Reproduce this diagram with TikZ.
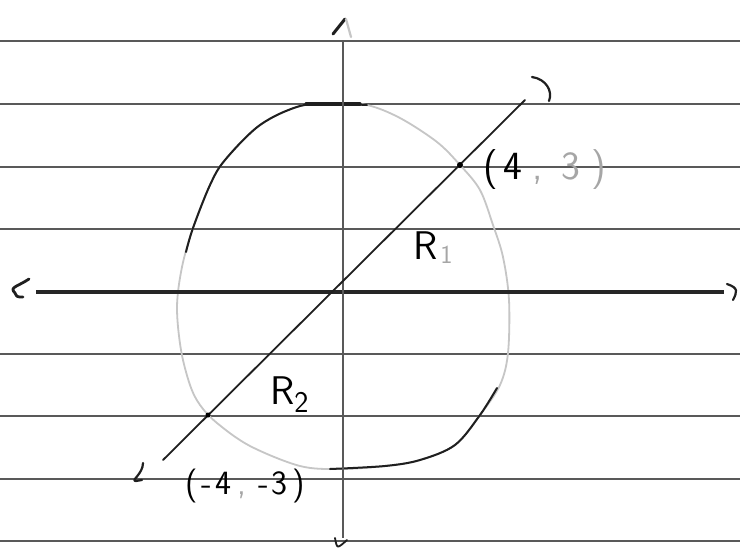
\documentclass[tikz,border=0pt]{standalone}
\usepackage{fontspec}
\begin{document}
\begin{tikzpicture}[x=1pt,y=-1pt,
  rule/.style={draw=gray!70!black, line width=1.6pt},
  pen/.style={draw=black!88, line width=1.8pt, line cap=round, line join=round},
  faint/.style={draw=gray!45, line width=1.8pt, line cap=round, line join=round},
  hand/.style={font=\sffamily\fontsize{40}{42}\selectfont, inner sep=0pt},
  dot/.style={circle, fill=black, inner sep=0pt, minimum size=6pt}]
\fill[white] (0,0) rectangle (740,550);
\useasboundingbox (0,0) rectangle (740,550);
% ruled paper
\foreach \y in {41,104,167,229,354,416,479,541} \draw[rule] (0,\y) -- (740,\y);
% named points
\coordinate (xl) at (36,292);
\coordinate (xr) at (724,292);
\coordinate (yt) at (343,41);
\coordinate (yb) at (343,538);
\coordinate (dt) at (525,100);
\coordinate (db) at (163,460);
% closed curve (light part)
\draw[faint] plot[smooth cycle, tension=0.55] coordinates {
 (335,104) (367,105) (400,118) (437,142) (460,165) (480,190) (493,225)
 (503,257) (509,300) (508,353) (500,385) (480,415) (455,445) (420,460)
 (385,466) (340,469) (300,466) (250,446) (217,423) (200,405) (190,385)
 (181,350) (177,307) (182,267) (193,228) (210,185) (225,160) (260,125) (300,106)};
% dark parts of the curve
\draw[pen, line width=2pt] plot[smooth, tension=0.55] coordinates {
 (367,105) (335,104) (300,106) (260,125) (225,160) (210,185) (193,228) (186,252)};
\draw[pen, line width=3.2pt] (306,104) -- (360,104);
\draw[pen, line width=2pt] plot[smooth, tension=0.55] coordinates {
 (330,469) (385,466) (420,460) (455,445) (480,415) (497,388)};
% axes
\draw[draw=black!85, line width=3.6pt] (xl) -- (xr);
\draw[rule, line width=1.8pt] (yt) -- (yb);
% axis ends (hand-drawn arrow marks)
\draw[pen, line width=2.8pt] (xl) ++(-7,-13) .. controls +(-12,8) and +(-6,-6) .. ++(-14,14) .. controls +(2,4) .. ++(8,4);
\draw[pen, line width=2.2pt] (xr) ++(3,-8) .. controls +(12,4) and +(4,-8) .. ++(6,16);
\draw[pen, line width=3pt] (yt) ++(-10,-7) -- ++(12,-15);
\draw[faint, line width=2.2pt] (yt) ++(3,-22) -- ++(5,18);
\draw[pen, line width=1.8pt] (yb) ++(-8,0) .. controls +(2,11) and +(-10,9) .. ++(12,2);
% diagonal
\draw[pen] (db) -- (dt);
\draw[pen, line width=2.2pt] (dt) ++(7,-23) .. controls +(14,2) and +(4,-10) .. ++(17,24);
\draw[pen, line width=2.2pt] (db) ++(-20,3) .. controls +(0,11) and +(-6,0) .. ++(-7,18) -- ++(6,-1);
% points
\node[dot] (p1) at (460,165) {};
\node[dot, minimum size=5pt] (p2) at (208,415) {};
% labels
\node[hand, anchor=west] (l1) at (483,170) {(\hspace{6pt}4\textcolor{gray!70}{\hspace{10pt},\hspace{18pt}3\hspace{12pt})}};
\node[hand, anchor=west, font=\sffamily\fontsize{34}{36}\selectfont] (l2) at (185,486) {(\hspace{4pt}-\hspace{3pt}4\hspace{6pt}\textcolor{gray!70}{,}\hspace{12pt}-\hspace{3pt}3\hspace{5pt})};
\node[hand, anchor=west] (r1) at (413,248) {R\hspace{3pt}\textcolor{gray!70}{\raisebox{-4pt}{\fontsize{26}{28}\selectfont 1}}};
\node[hand, anchor=west] (r2) at (270,395) {R\raisebox{-8pt}{\fontsize{30}{32}\selectfont 2}};
\end{tikzpicture}
\end{document}
